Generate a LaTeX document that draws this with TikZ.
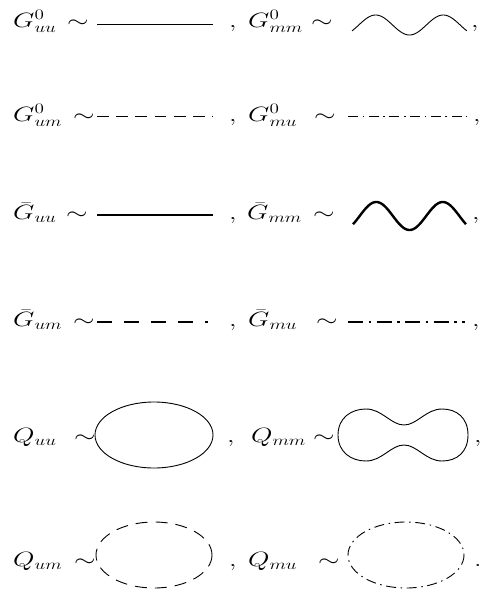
\documentclass[tikz,border=0pt]{standalone}
\usepackage{amsmath}
\usepackage{graphicx}
\usetikzlibrary{shapes.geometric}
\newcommand{\hsx}[1]{\scalebox{1.33}[1]{$#1$}}
\begin{document}
\begin{tikzpicture}[x=1pt,y=-1pt,
  lbl/.style={anchor=base west,inner sep=0pt,font=\fontsize{20}{24}\selectfont},
  thinline/.style={line width=0.9pt},
  thickline/.style={line width=2.4pt},
  dashA/.style={dash pattern=on 11.7pt off 7.5pt},
  dashB/.style={dash pattern=on 10pt off 4.6pt on 1.5pt off 4.6pt},
  dashC/.style={dash pattern=on 15pt off 12pt},
  dashD/.style={dash pattern=on 15pt off 5.5pt on 2.5pt off 5.5pt},
  dashE/.style={dash pattern=on 12pt off 8pt}]
\useasboundingbox (0,0) rectangle (484,592);
% row 1
\node[lbl] (t1a) at (13,27) {\hsx{G^0_{uu}}};
\node[lbl] (s1a) at (66.8,27) {\hsx{\sim}};
\coordinate (l1a) at (97,24); \coordinate (l1b) at (213,24);
\draw[thinline] (l1a) -- (l1b);
\node[lbl] (c1a) at (229,27) {\hsx{,}};
\node[lbl] (t1b) at (248,27) {\hsx{G^0_{mm}}};
\node[lbl] (s1b) at (310.8,27) {\hsx{\sim}};
\draw[thinline] plot[domain=0:1.7,samples=90,smooth] ({352+\x*67.6},{25-10*cos(360*(\x-0.35))});
\node[lbl] (c1b) at (471,27) {\hsx{,}};
% row 2
\node[lbl] (t2a) at (13,121) {\hsx{G^0_{um}}};
\node[lbl] (s2a) at (72.8,121) {\hsx{\sim}};
\coordinate (l2a) at (97,116); \coordinate (l2b) at (213,116);
\draw[thinline,dashA] (l2a) -- (l2b);
\node[lbl] (c2a) at (229,121) {\hsx{,}};
\node[lbl] (t2b) at (248,121) {\hsx{G^0_{mu}}};
\node[lbl] (s2b) at (313.8,121) {\hsx{\sim}};
\coordinate (l2c) at (348,116); \coordinate (l2d) at (467,116);
\draw[thinline,dashB] (l2c) -- (l2d);
\node[lbl] (c2b) at (473,121) {\hsx{,}};
% row 3
\node[lbl] (t3a) at (13,219.5) {\hsx{\bar{G}_{uu}}};
\node[lbl] (s3a) at (65.8,219.5) {\hsx{\sim}};
\coordinate (l3a) at (97,215); \coordinate (l3b) at (213,215);
\draw[thickline] (l3a) -- (l3b);
\node[lbl] (c3a) at (229,219.5) {\hsx{,}};
\node[lbl] (t3b) at (247,219.5) {\hsx{\bar{G}_{mm}}};
\node[lbl] (s3b) at (312.8,219.5) {\hsx{\sim}};
\draw[thickline] plot[domain=0:1.7,samples=90,smooth] ({353+\x*66.5},{216-14*cos(360*(\x-0.35))});
\node[lbl] (c3b) at (472,219.5) {\hsx{,}};
% row 4
\node[lbl] (t4a) at (13,326.5) {\hsx{\bar{G}_{um}}};
\node[lbl] (s4a) at (72.8,326.5) {\hsx{\sim}};
\coordinate (l4a) at (97,322); \coordinate (l4b) at (208,322);
\draw[thickline,dashC] (l4a) -- (l4b);
\node[lbl] (c4a) at (229,326.5) {\hsx{,}};
\node[lbl] (t4b) at (248,326.5) {\hsx{\bar{G}_{mu}}};
\node[lbl] (s4b) at (315.8,326.5) {\hsx{\sim}};
\coordinate (l4c) at (348,322); \coordinate (l4d) at (465,322);
\draw[thickline,dashD] (l4c) -- (l4d);
\node[lbl] (c4b) at (472,326.5) {\hsx{,}};
% row 5
\node[lbl] (t5a) at (13,442) {\hsx{Q_{uu}}};
\node[lbl] (s5a) at (73.8,442) {\hsx{\sim}};
\node[draw,thinline,ellipse,minimum width=118pt,minimum height=66pt,inner sep=0pt] (e5a) at (154,435) {};
\node[lbl] (c5a) at (227,442) {\hsx{,}};
\node[lbl] (t5b) at (251,442) {\hsx{Q_{mm}}};
\node[lbl] (s5b) at (312.8,442) {\hsx{\sim}};
\draw[thinline] (338,435) .. controls (338,418) and (351,409) .. (366,409)
 .. controls (382,409) and (391,425) .. (404,425)
 .. controls (417,425) and (426,409) .. (442,409)
 .. controls (457,409) and (468,418) .. (468,435)
 .. controls (468,452) and (457,461) .. (442,461)
 .. controls (426,461) and (417,445) .. (404,445)
 .. controls (391,445) and (382,461) .. (366,461)
 .. controls (351,461) and (338,452) .. cycle;
\node[lbl] (c5b) at (474,442) {\hsx{,}};
% row 6
\node[lbl] (t6a) at (13,566) {\hsx{Q_{um}}};
\node[lbl] (s6a) at (73.8,566) {\hsx{\sim}};
\draw[thinline,dashE] (154,555) ellipse [x radius=58, y radius=33];
\node[lbl] (c6a) at (229,566) {\hsx{,}};
\node[lbl] (t6b) at (248,566) {\hsx{Q_{mu}}};
\node[lbl] (s6b) at (317.8,566) {\hsx{\sim}};
\draw[thinline,dashB] (406,555) ellipse [x radius=58, y radius=33];
\node[lbl] (c6b) at (474,566) {\hsx{.}};
\end{tikzpicture}
\end{document}
